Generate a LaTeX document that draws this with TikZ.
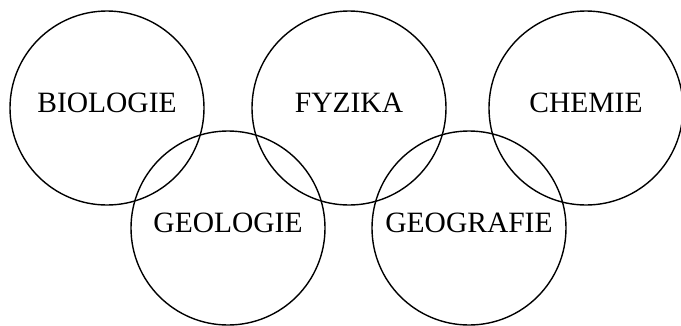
\documentclass[tikz,border=0pt]{standalone}
\usepackage{fontspec}
\setmainfont{Liberation Serif}
\begin{document}
\begin{tikzpicture}[x=1pt,y=-1pt,
  ring/.style={circle, draw=black, line width=1.4pt, minimum size=194pt, inner sep=0pt},
  lbl/.style={font=\fontsize{29.5}{32}\selectfont, inner sep=0pt, yshift=5pt}]
\useasboundingbox (0,0) rectangle (681,325);
\node[ring] (bio) at (107,108) {};
\node[ring] (fyz) at (349,108) {};
\node[ring] (che) at (586,108) {};
\node[ring] (geol) at (228,228) {};
\node[ring] (geog) at (469,228) {};
\node[lbl] (tbio) at (bio.center) {BIOLOGIE};
\node[lbl] (tfyz) at (fyz.center) {FYZIKA};
\node[lbl] (tche) at (che.center) {CHEMIE};
\node[lbl] (tgeol) at (geol.center) {GEOLOGIE};
\node[lbl] (tgeog) at (geog.center) {GEOGRAFIE};
\end{tikzpicture}
\end{document}
